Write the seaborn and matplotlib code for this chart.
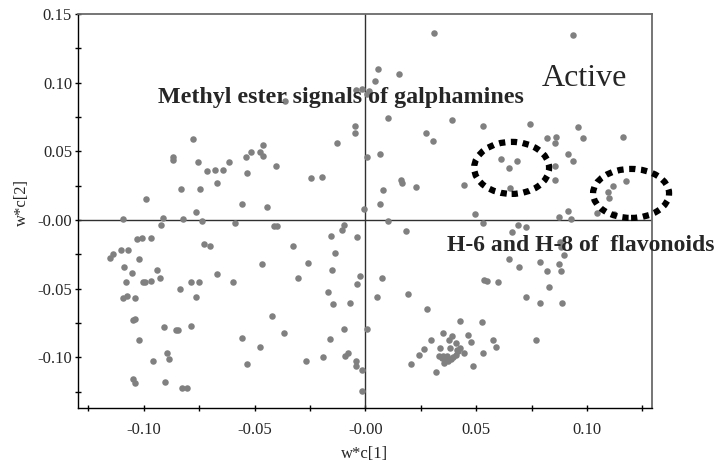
import numpy as np
import pandas as pd
import matplotlib
matplotlib.use("Agg")
import matplotlib.pyplot as plt
from matplotlib.patches import Ellipse
import seaborn as sns

# ---- data (loadings w*c[1], w*c[2]) ----
x_top = [-0.0779, -0.0460, 0.0309, 0.0056, 0.0153, 0.0042, -0.0043, -0.0015, 0.0018, 0.0006,
         -0.0364, 0.0101, 0.0391, -0.0045, -0.0045, 0.0274, 0.0531, 0.0306, -0.0128, 0.0936,
         0.0743, 0.0961, 0.0819, 0.0859, 0.0855, 0.0984, 0.1162]
y_top = [0.0588, 0.0547, 0.1363, 0.1101, 0.1062, 0.1015, 0.0948, 0.0957, 0.0938, 0.0918,
         0.0867, 0.0741, 0.0729, 0.0683, 0.0634, 0.0632, 0.0683, 0.0574, 0.0561, 0.1348,
         0.0700, 0.0678, 0.0598, 0.0605, 0.0563, 0.0598, 0.0605]

x_left_mid = [-0.0869, -0.0869, -0.0755, -0.0615, -0.0540, -0.0517, -0.0474, -0.0463, -0.0403, -0.0713,
              -0.0678, -0.0644, -0.0532, -0.0671, -0.0830, -0.0747, -0.0988, -0.0558, -0.0442, -0.0765,
              -0.1093, -0.0913, -0.0824, -0.0738, -0.0921, -0.0588, -0.0412, -0.0400, -0.1030, -0.1009,
              -0.0968, -0.0728, -0.0701, -0.1101, -0.1071, -0.1140, -0.1153, -0.1021, -0.1090, -0.1053,
              -0.0941, -0.0926, -0.0671, -0.0468, -0.1080, -0.1002, -0.0994, -0.0966, -0.0785, -0.0750,
              -0.0596]
y_left_mid = [0.0457, 0.0437, 0.0425, 0.0425, 0.0457, 0.0493, 0.0493, 0.0469, 0.0396, 0.0357,
              0.0362, 0.0364, 0.0343, 0.0267, 0.0228, 0.0228, 0.0155, 0.0119, 0.0093, 0.0056,
              0.0005, 0.0017, 0.0009, -0.0007, -0.0036, -0.0024, -0.0046, -0.0046, -0.0138, -0.0133,
              -0.0131, -0.0173, -0.0190, -0.0219, -0.0219, -0.0248, -0.0275, -0.0282, -0.0345, -0.0384,
              -0.0362, -0.0425, -0.0396, -0.0321, -0.0454, -0.0454, -0.0454, -0.0447, -0.0454, -0.0454,
              -0.0454]

x_left_low = [-0.0835, -0.1093, -0.1074, -0.1041, -0.0765, -0.1048, -0.1039, -0.0910, -0.0856, -0.0847,
              -0.0788, -0.1023, -0.0422, -0.0367, -0.0555, -0.0477, -0.0895, -0.0886, -0.0958, -0.0532,
              -0.1048, -0.1039, -0.0903, -0.0827, -0.0803]
y_left_low = [-0.0503, -0.0566, -0.0552, -0.0566, -0.0559, -0.0727, -0.0722, -0.0780, -0.0800, -0.0802,
              -0.0773, -0.0872, -0.0698, -0.0821, -0.0860, -0.0928, -0.0967, -0.1011, -0.1026, -0.1047,
              -0.1161, -0.1186, -0.1181, -0.1227, -0.1227]

x_center = [0.0008, 0.0066, -0.0245, -0.0197, 0.0161, 0.0166, 0.0230, 0.0079, 0.0444, 0.0068,
            -0.0007, 0.0494, 0.0101, 0.0531, -0.0095, -0.0106, -0.0156, -0.0037, 0.0184, -0.0325,
            -0.0135, -0.0260, -0.0152, -0.0305, -0.0024, -0.0039, 0.0077, 0.0534]
y_center = [0.0461, 0.0481, 0.0308, 0.0313, 0.0289, 0.0270, 0.0241, 0.0219, 0.0257, 0.0119,
            0.0080, 0.0044, -0.0009, -0.0024, -0.0039, -0.0075, -0.0114, -0.0124, -0.0080, -0.0187,
            -0.0241, -0.0313, -0.0367, -0.0421, -0.0406, -0.0469, -0.0423, -0.0435]

x_bottom = [-0.0170, -0.0144, -0.0069, 0.0053, 0.0191, 0.0278, -0.0095, 0.0008, -0.0158, 0.0426,
            0.0527, -0.0269, -0.0190, -0.0092, -0.0079, -0.0041, -0.0041, -0.0015, -0.0016, 0.0208,
            0.0241, 0.0264, 0.0298, 0.0320, 0.0349, 0.0376, 0.0391, 0.0409, 0.0427, 0.0417,
            0.0444, 0.0463, 0.0476, 0.0485, 0.0531, 0.0336, 0.0381, 0.0334, 0.0352, 0.0367,
            0.0361, 0.0355, 0.0375, 0.0387, 0.0397, 0.0408, 0.0346, 0.0412]
y_bottom = [-0.0527, -0.0612, -0.0603, -0.0561, -0.0537, -0.0649, -0.0792, -0.0797, -0.0865, -0.0738,
            -0.0746, -0.1026, -0.0999, -0.0991, -0.0969, -0.1026, -0.1066, -0.1093, -0.1244, -0.1047,
            -0.0986, -0.0940, -0.0872, -0.1106, -0.0824, -0.0872, -0.0843, -0.0897, -0.0931, -0.0953,
            -0.0967, -0.0836, -0.0889, -0.1064, -0.0967, -0.0935, -0.0935, -0.0993, -0.0989, -0.0991,
            -0.1020, -0.1044, -0.1030, -0.1015, -0.1001, -0.0986, -0.1008, -0.0948]

x_right = [0.0600, 0.0829, 0.0724, 0.0787, 0.0889, 0.0576, 0.0769, 0.0591, 0.0614, 0.0683,
           0.0648, 0.0913, 0.0936, 0.0856, 0.0856, 0.0653, 0.1176, 0.1116, 0.1094, 0.1101,
           0.1047, 0.1124, 0.0913, 0.0875, 0.0927, 0.0690, 0.0724, 0.0663, 0.0879, 0.0884,
           0.0897, 0.0648, 0.0695, 0.0788, 0.0819, 0.0873, 0.0884, 0.0548]
y_right = [-0.0450, -0.0486, -0.0559, -0.0607, -0.0607, -0.0872, -0.0872, -0.0928, 0.0442, 0.0432,
           0.0379, 0.0481, 0.0432, 0.0396, 0.0289, 0.0233, 0.0282, 0.0248, 0.0206, 0.0158,
           0.0053, 0.0044, 0.0068, 0.0020, 0.0007, -0.0039, -0.0049, -0.0085, -0.0163, -0.0195,
           -0.0255, -0.0286, -0.0345, -0.0308, -0.0372, -0.0319, -0.0372, -0.0445]

xtick_values = [-0.10, -0.05, 0.0, 0.05, 0.10]
xtick_labels = ["-0.10", "-0.05", "-0.00", "0.05", "0.10"]
ytick_values = [-0.10, -0.05, 0.0, 0.05, 0.10, 0.15]
ytick_labels = ["-0.10", "-0.05", "-0.00", "0.05", "0.10", "0.15"]

# highlighted regions (center x, center y, width, height)
ellipse_active1 = (0.0660, 0.0379, 0.0338, 0.0379)
ellipse_active2 = (0.1199, 0.0193, 0.0343, 0.0357)

df = pd.DataFrame({
    "w*c[1]": x_top + x_left_mid + x_left_low + x_center + x_bottom + x_right,
    "w*c[2]": y_top + y_left_mid + y_left_low + y_center + y_bottom + y_right,
})

sns.set_style("white")
plt.rcParams["font.family"] = ["Liberation Serif", "DejaVu Serif"]

fig = plt.figure(figsize=(7.22, 4.61), dpi=100)
ax = fig.add_axes([0.1085, 0.1156, 0.7941, 0.854])

ax.axhline(0, color="#303030", lw=1.0, zorder=1)
ax.axvline(0, color="#303030", lw=1.0, zorder=1)

sns.scatterplot(data=df, x="w*c[1]", y="w*c[2]", ax=ax, color="#808080",
                s=22, linewidth=0, zorder=3, legend=False)

ax.set_xlim(-0.1295, 0.1292)
ax.set_ylim(-0.1368, 0.15)

ax.set_xticks(xtick_values)
ax.set_xticklabels(xtick_labels)
ax.set_yticks(ytick_values)
ax.set_yticklabels(ytick_labels)
ax.set_xticks(np.arange(-0.125, 0.126, 0.025), minor=True)
ax.set_yticks(np.arange(-0.125, 0.126, 0.025), minor=True)
ax.tick_params(which="both", direction="inout", length=5, width=1, color="black",
               labelsize=12, bottom=True, left=True, top=False, right=False)
ax.tick_params(axis="x", which="both", pad=7.5)
ax.tick_params(axis="y", which="both", pad=2)

for side in ["left", "bottom"]:
    ax.spines[side].set_color("black")
    ax.spines[side].set_linewidth(1.0)
for side in ["top", "right"]:
    ax.spines[side].set_color("#6a6a6a")
    ax.spines[side].set_linewidth(1.3)

ax.set_xlabel("w*c[1]", fontsize=12)
ax.set_ylabel("w*c[2]", fontsize=12)
ax.xaxis.set_label_coords(0.5, -0.097)
ax.yaxis.set_label_coords(-0.085, 0.52)

for (cx, cy, w, h) in [ellipse_active1, ellipse_active2]:
    e = Ellipse((cx, cy), w, h, fill=False, edgecolor="black", lw=4.5,
                linestyle=(0, (1.0, 0.9)), clip_on=False, zorder=4)
    ax.add_patch(e)

ax.text(-0.0934, 0.0851, "Methyl ester signals of galphamines", fontsize=17.3,
        fontweight="bold", va="baseline", ha="left", zorder=5)
ax.text(0.0367, -0.0226, "H-6 and H-8 of  flavonoids", fontsize=17,
        fontweight="bold", va="baseline", ha="left", zorder=5)
ax.text(0.0796, 0.0977, "Active", fontsize=23, va="baseline", ha="left", zorder=5)

fig.savefig("out.png", dpi=100)
